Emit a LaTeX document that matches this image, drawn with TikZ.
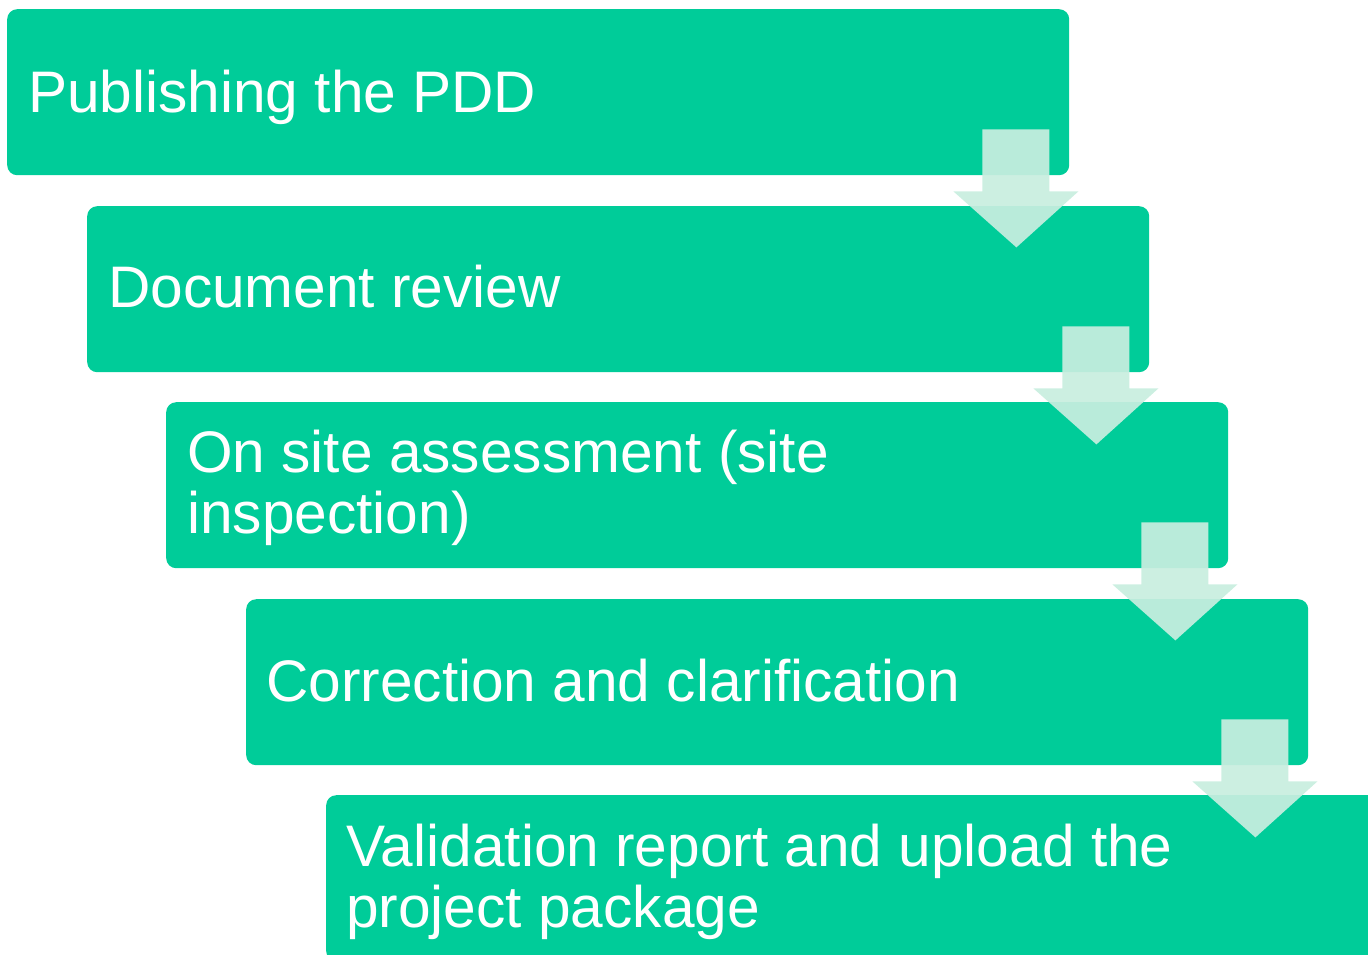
\documentclass[tikz,border=0pt]{standalone}
\usepackage{fontspec}
\setmainfont{Liberation Sans}
\definecolor{boxgreen}{HTML}{00CC99}
\definecolor{arrowmint}{HTML}{C8EEDF}
\begin{document}
\begin{tikzpicture}[x=1pt,y=-1pt,
  stepbox/.style={fill=boxgreen,draw=none,rounded corners=10pt,anchor=north west,
     minimum width=1062pt,minimum height=166pt,inner sep=0pt},
  label/.style={text=white,anchor=base west,inner sep=0pt,align=left,
     font=\fontsize{58.6}{61}\selectfont},
  flowarrow/.style={fill=arrowmint,draw=none,opacity=0.93}]
\useasboundingbox (0,0) rectangle (1368,954);
\clip (0,0) rectangle (1368,954);
\node[stepbox] (b1) at (7,9) {};
\node[stepbox] (b2) at (87,206) {};
\node[stepbox] (b3) at (166,402) {};
\node[stepbox] (b4) at (246,599) {};
\node[stepbox] (b5) at (326,795) {};
\node[label] (t1) at (28,112) {Publishing the PDD};
\node[label] (t2) at (108,307) {Document review};
\node[label] (t3) at (187,533) {On site assessment (site\\inspection)};
\node[label] (t4) at (266,701) {Correction and clarification};
\node[label] (t5) at (346,927) {Validation report and upload the\\project package};
\foreach \b in {b1,b2,b3,b4}{
  \fill[flowarrow] (\b.south east) ++(-87,-46) -- ++(67,0) -- ++(0,62) -- ++(29,0)
     -- ++(-62,56) -- ++(-63,-56) -- ++(29,0) -- cycle;
}
\end{tikzpicture}
\end{document}
